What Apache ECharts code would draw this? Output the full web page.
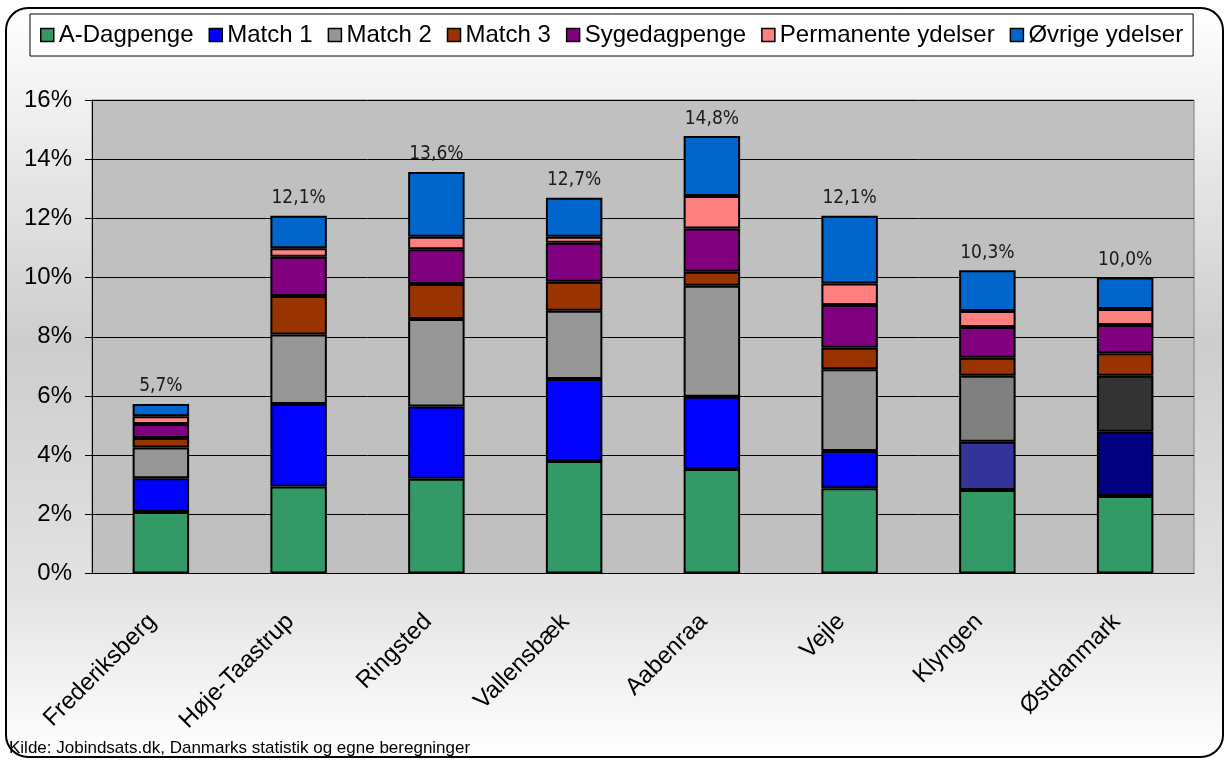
<!DOCTYPE html>
<html>
<head>
<meta charset="utf-8">
<title>Ydelser</title>
<script src="https://cdn.jsdelivr.net/npm/echarts@6.0.0/dist/echarts.min.js"></script>
<style>
  html, body { margin: 0; padding: 0; background: #fff; }
  #chart { width: 1226px; height: 762px; }
</style>
</head>
<body>
<div id="chart"></div>
<script>
// data, in percent
const categories = ['Frederiksberg', 'Høje-Taastrup', 'Ringsted', 'Vallensbæk', 'Aabenraa', 'Vejle', 'Klyngen', 'Østdanmark'];
const aDagpenge = [2.08, 2.94, 3.20, 3.80, 3.53, 2.88, 2.82, 2.62];
const match1 = [1.14, 2.79, 2.44, 2.77, 2.44, 1.26, 1.63, 2.17];
const match2 = [1.04, 2.35, 2.96, 2.31, 3.75, 2.76, 2.23, 1.89];
const match3 = [0.32, 1.30, 1.18, 0.98, 0.48, 0.73, 0.61, 0.76];
const sygedagpenge = [0.47, 1.32, 1.18, 1.32, 1.46, 1.44, 1.04, 0.96];
const permanente = [0.26, 0.29, 0.42, 0.20, 1.10, 0.73, 0.54, 0.54];
const oevrige = [0.42, 1.10, 2.19, 1.32, 2.02, 2.29, 1.38, 1.06];
const totals = [5.7, 12.1, 13.6, 12.7, 14.8, 12.1, 10.3, 10.0];
const yMin = 0, yMax = 16, yStep = 2;

const seriesNames = ['A-Dagpenge', 'Match 1', 'Match 2', 'Match 3', 'Sygedagpenge', 'Permanente ydelser', 'Øvrige ydelser'];
const seriesValues = [aDagpenge, match1, match2, match3, sygedagpenge, permanente, oevrige];
const seriesColors = ['#339966', '#0000ff', '#969696', '#993300', '#800080', '#ff8080', '#0066cc'];

// some bars use other shades for the match groups
const colorOverrides = {
  'Klyngen': { 'Match 1': '#333399', 'Match 2': '#808080' },
  'Østdanmark': { 'Match 1': '#000080', 'Match 2': '#333333' }
};

var chart = echarts.init(document.getElementById('chart'));

var series = seriesNames.map(function (name, si) {
  var s = {
    name: name,
    type: 'bar',
    stack: 'total',
    barWidth: '41%',
    itemStyle: { color: seriesColors[si], borderColor: '#000', borderWidth: 2 },
    emphasis: { disabled: true },
    data: seriesValues[si].map(function (v, i) {
      var ov = colorOverrides[categories[i]];
      if (ov && ov[name]) {
        return { value: v, itemStyle: { color: ov[name] } };
      }
      return v;
    })
  };
  if (si === seriesNames.length - 1) {
    s.label = {
      show: true,
      position: 'top',
      distance: 8,
      fontFamily: "'DejaVu Sans Condensed', 'DejaVu Sans', sans-serif",
      fontSize: 19,
      color: '#1a1a1a',
      formatter: function (p) {
        return totals[p.dataIndex].toFixed(1).replace('.', ',') + '%';
      }
    };
  }
  return s;
});

var option = {
  animation: false,
  textStyle: { fontFamily: 'Liberation Sans' },
  graphic: [
    {
      type: 'rect',
      z: -10,
      shape: { x: 6, y: 8, width: 1217, height: 749, r: 22 },
      style: {
        fill: {
          type: 'linear', x: 0, y: 0, x2: 0, y2: 1,
          colorStops: [
            { offset: 0, color: '#ffffff' },
            { offset: 0.45, color: '#cdcdcd' },
            { offset: 0.77, color: '#e2e2e2' },
            { offset: 1, color: '#ffffff' }
          ]
        },
        stroke: '#000',
        lineWidth: 2
      }
    },
    {
      type: 'text',
      left: 9,
      top: 740,
      style: {
        text: 'Kilde: Jobindsats.dk, Danmarks statistik og egne beregninger',
        fontFamily: 'Liberation Sans',
        fontSize: 17,
        fill: '#000'
      }
    }
  ],
  legend: {
    left: 30,
    top: 14,
    padding: [9, 10, 9, 10],
    icon: 'rect',
    itemWidth: 13,
    itemHeight: 13,
    itemGap: 15,
    backgroundColor: '#fff',
    borderColor: '#000',
    borderWidth: 1,
    itemStyle: { borderWidth: 1.5, borderColor: '#000' },
    textStyle: { fontSize: 24, color: '#000' },
    data: seriesNames
  },
  grid: {
    left: 92,
    right: 32,
    top: 100,
    bottom: 188.5,
    show: true,
    backgroundColor: '#c0c0c0',
    borderColor: '#808080',
    borderWidth: 1,
    outerBoundsMode: 'none'
  },
  xAxis: {
    type: 'category',
    data: categories,
    axisLine: { lineStyle: { color: '#000', width: 1 } },
    axisTick: { length: 6, lineStyle: { color: '#333' } },
    axisLabel: {
      interval: 0,
      rotate: 45,
      margin: 36,
      padding: [0, 12, 0, 0],
      fontSize: 24,
      color: '#000'
    }
  },
  yAxis: {
    type: 'value',
    min: yMin,
    max: yMax,
    interval: yStep,
    axisLine: { show: true, lineStyle: { color: '#000', width: 1 } },
    axisTick: { show: true, length: 7, lineStyle: { color: '#000' } },
    splitLine: { lineStyle: { color: '#000', width: 1 } },
    axisLabel: {
      margin: 20,
      fontSize: 24,
      color: '#000',
      formatter: '{value}%'
    }
  },
  series: series
};

chart.setOption(option);
</script>
</body>
</html>
